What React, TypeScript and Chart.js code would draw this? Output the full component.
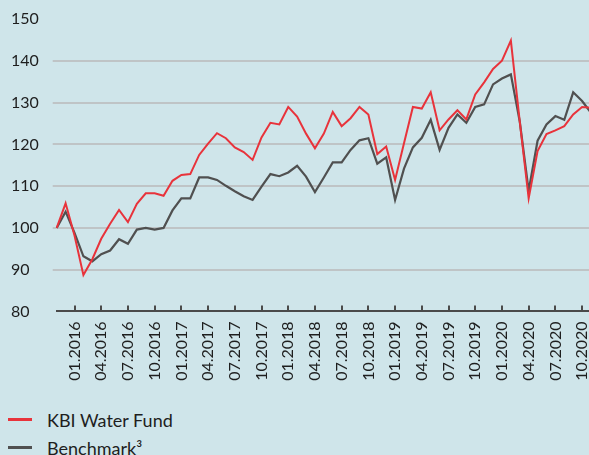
import React, { useEffect, useRef } from "react";
import { Chart, registerables } from "chart.js";

Chart.register(...registerables);

const months: string[] = [
  "11.2015", "12.2015",
  "01.2016", "02.2016", "03.2016", "04.2016", "05.2016", "06.2016", "07.2016", "08.2016", "09.2016", "10.2016", "11.2016", "12.2016",
  "01.2017", "02.2017", "03.2017", "04.2017", "05.2017", "06.2017", "07.2017", "08.2017", "09.2017", "10.2017", "11.2017", "12.2017",
  "01.2018", "02.2018", "03.2018", "04.2018", "05.2018", "06.2018", "07.2018", "08.2018", "09.2018", "10.2018", "11.2018", "12.2018",
  "01.2019", "02.2019", "03.2019", "04.2019", "05.2019", "06.2019", "07.2019", "08.2019", "09.2019", "10.2019", "11.2019", "12.2019",
  "01.2020", "02.2020", "03.2020", "04.2020", "05.2020", "06.2020", "07.2020", "08.2020", "09.2020", "10.2020", "11.2020",
];

const tickLabels: string[] = [
  "01.2016", "04.2016", "07.2016", "10.2016",
  "01.2017", "04.2017", "07.2017", "10.2017",
  "01.2018", "04.2018", "07.2018", "10.2018",
  "01.2019", "04.2019", "07.2019", "10.2019",
  "01.2020", "04.2020", "07.2020", "10.2020",
];

const fundValues: number[] = [
  100, 105.9,
  98.2, 88.7, 92.5, 97.4, 101, 104.3, 101.4, 105.8, 108.3, 108.3, 107.7, 111.3,
  112.7, 112.9, 117.5, 120.2, 122.7, 121.5, 119.3, 118.2, 116.3, 121.7, 125.2, 124.8,
  129.0, 126.7, 122.6, 119.1, 122.6, 127.8, 124.4, 126.3, 129.0, 127.2, 117.7, 119.5,
  111.5, 120.3, 129.0, 128.6, 132.5, 123.4, 126.0, 128.2, 126.0, 132.0, 134.9, 138.1,
  140.1, 144.9, 125.5, 107.1, 118.4, 122.5, 123.4, 124.4, 127.2, 129.0, 128.8,
];

const benchmarkValues: number[] = [
  100, 103.9,
  98.8, 93.2, 92.0, 93.7, 94.6, 97.3, 96.2, 99.6, 100.0, 99.6, 100.0, 104.2,
  107.1, 107.1, 112.1, 112.1, 111.5, 110.1, 108.8, 107.6, 106.7, 109.9, 112.9, 112.4,
  113.3, 114.9, 112.3, 108.6, 112.1, 115.7, 115.7, 118.7, 121.0, 121.5, 115.4, 116.9,
  106.7, 114.2, 119.3, 121.6, 125.9, 118.7, 124.0, 127.2, 125.2, 129.0, 129.6, 134.4,
  135.8, 136.8, 125.5, 108.9, 120.9, 124.8, 126.8, 125.9, 132.5, 130.4, 127.6,
];

const seriesNames: string[] = ["KBI Water Fund", "Benchmark³"];
const seriesColors: string[] = ["#e8333b", "#505050"];

const BG = "#cfe5ea";
const FONT = "Lato, 'DejaVu Sans', sans-serif";

const quarterTicks = {
  id: "quarterTicks",
  afterDraw(chart: any) {
    const { ctx, chartArea, scales } = chart;
    const x = scales.x;
    ctx.save();
    ctx.strokeStyle = "#4a4a4a";
    ctx.lineWidth = 2;
    ctx.beginPath();
    tickLabels.forEach((lab) => {
      const idx = months.indexOf(lab);
      if (idx < 0) return;
      const px = Math.round(x.getPixelForValue(idx));
      ctx.moveTo(px, chartArea.bottom - 6);
      ctx.lineTo(px, chartArea.bottom);
    });
    ctx.stroke();
    ctx.restore();
  },
};

export default function App() {
  const ref = useRef<HTMLCanvasElement>(null);

  useEffect(() => {
    if (!ref.current) return;
    const chart = new Chart(ref.current, {
      type: "line",
      data: {
        labels: months,
        datasets: [
          {
            label: seriesNames[0],
            data: fundValues,
            borderColor: seriesColors[0],
            borderWidth: 2,
            pointRadius: 0,
            tension: 0,
            fill: false,
          },
          {
            label: seriesNames[1],
            data: benchmarkValues,
            borderColor: seriesColors[1],
            borderWidth: 2.2,
            pointRadius: 0,
            tension: 0,
            fill: false,
          },
        ],
      },
      options: {
        animation: false,
        responsive: false,
        devicePixelRatio: 1,
        layout: { padding: { left: 11, right: 3, top: 19.3, bottom: 0 } },
        plugins: {
          legend: { display: false },
          tooltip: { enabled: false },
        },
        scales: {
          x: {
            type: "category",
            offset: false,
            grid: { display: false, drawTicks: false, tickLength: 0 },
            border: { display: true, color: "#4a4a4a", width: 2 },
            ticks: {
              autoSkip: false,
              minRotation: 90,
              maxRotation: 90,
              padding: 10,
              color: "#1e1e1e",
              font: { family: FONT, size: 16 },
              callback: (_v: any, i: number) =>
                tickLabels.includes(months[i]) ? months[i] : "",
            },
            afterFit: (s: any) => {
              s.height = 88.6;
              s.paddingLeft = 0;
              s.paddingRight = 0;
            },
          },
          y: {
            min: 80,
            max: 150,
            grid: {
              color: (c: any) =>
                c.tick && (c.tick.value === 150 || c.tick.value === 80)
                  ? "rgba(0,0,0,0)"
                  : "#bfc4c6",
              lineWidth: 2,
              drawTicks: true,
              tickLength: 4,
            },
            border: { display: false },
            ticks: {
              stepSize: 10,
              crossAlign: "far",
              color: "#1e1e1e",
              font: { family: FONT, size: 16 },
            },
            afterFit: (s: any) => {
              s.width = 45.7;
              s.paddingTop = 0;
              s.paddingBottom = 0;
            },
          },
        },
      },
      plugins: [quarterTicks],
    });
    return () => chart.destroy();
  }, []);

  return (
    <div
      style={{
        position: "fixed",
        left: 0,
        top: 0,
        width: 589,
        height: 455,
        overflow: "hidden",
        background: BG,
        fontFamily: FONT,
      }}
    >
      <canvas
        ref={ref}
        width={594}
        height={400}
        style={{ position: "absolute", left: 0, top: 0, width: 594, height: 400 }}
      />
      {seriesNames.map((name, i) => (
        <React.Fragment key={name}>
          <div
            style={{
              position: "absolute",
              left: 8,
              top: 418 + i * 28.4,
              width: 24,
              height: 3,
              background: seriesColors[i],
            }}
          />
          <div
            style={{
              position: "absolute",
              left: 47,
              top: 410.7 + i * 28.4,
              fontSize: 18,
              lineHeight: "18px",
              color: "#1e1e1e",
              whiteSpace: "nowrap",
            }}
          >
            {name}
          </div>
        </React.Fragment>
      ))}
    </div>
  );
}
